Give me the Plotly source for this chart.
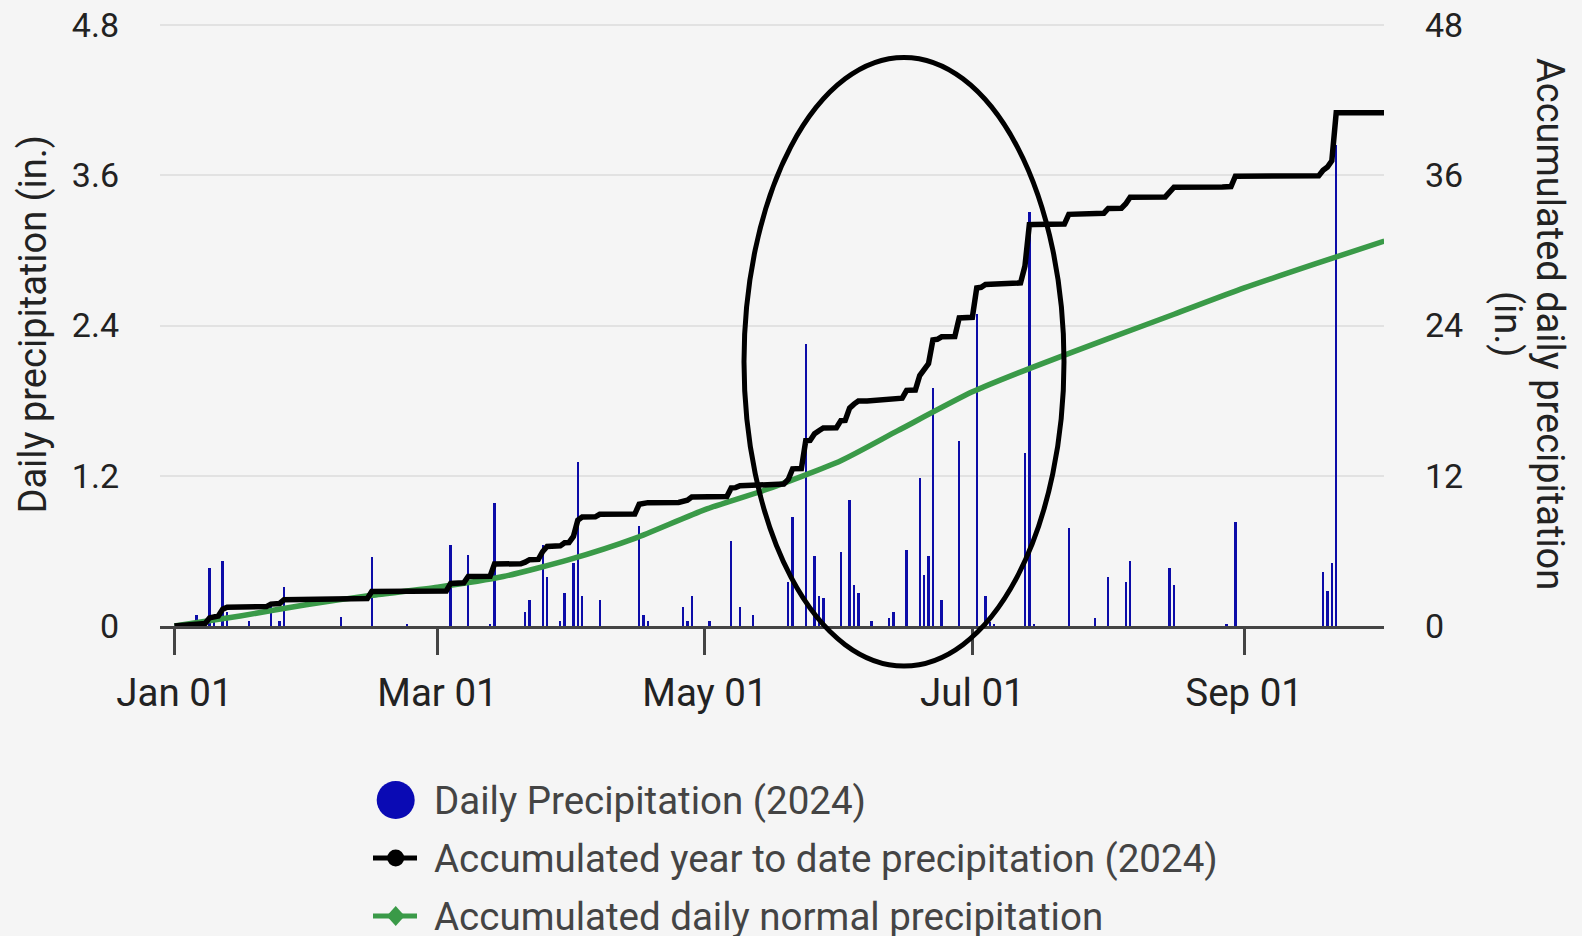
import pandas as pd
import plotly.graph_objects as go

# ---------------- data ----------------
YEAR_START = pd.Timestamp("2024-01-01")

# daily precipitation (day index from Jan 01, inches)
rain_day = [5, 8, 9, 11, 12, 17, 22, 24, 25, 38, 45, 53, 63, 67, 72, 73, 80, 81, 84, 85,
            88, 89, 91, 92, 93, 97, 106, 107, 108, 116, 117, 118, 122, 127, 129, 132, 140, 141, 144, 146,
            147, 148, 152, 154, 155, 156, 159, 163, 164, 167, 170, 171, 172, 173, 175, 179, 183, 185, 186, 187,
            194, 195, 196, 204, 210, 213, 217, 218, 227, 228, 240, 242, 262, 263, 264, 265]
rain_in = [0.09, 0.46, 0.05, 0.52, 0.11, 0.04, 0.19, 0.04, 0.31, 0.07, 0.55, 0.02, 0.65, 0.57, 0.02, 0.98, 0.11, 0.21, 0.65, 0.39,
           0.04, 0.26, 0.50, 1.31, 0.24, 0.21, 0.80, 0.09, 0.04, 0.15, 0.04, 0.24, 0.04, 0.68, 0.15, 0.09, 0.35, 0.87, 2.25, 0.56,
           0.24, 0.22, 0.59, 1.01, 0.33, 0.26, 0.04, 0.06, 0.11, 0.61, 1.18, 0.41, 0.56, 1.90, 0.21, 1.48, 2.49, 0.24, 0.03, 0.02,
           1.38, 3.31, 0.02, 0.78, 0.06, 0.39, 0.35, 0.52, 0.46, 0.33, 0.02, 0.83, 0.43, 0.28, 0.50, 3.84]

# accumulated year-to-date precipitation (vertices of the black line)
acc_day = [0, 4, 5, 7, 8, 10, 11, 12, 21, 22, 24, 25, 37, 38, 44, 45, 62, 63, 66, 67,
           72, 73, 79, 80, 81, 83, 84, 85, 88, 89, 90, 91, 92, 93, 96, 97, 105, 106, 107, 108,
           115, 116, 117, 118, 121, 122, 126, 127, 128, 129, 131, 132, 139, 140, 141, 143, 144, 145, 146, 147,
           148, 151, 152, 153, 154, 155, 156, 158, 159, 162, 163, 164, 166, 167, 169, 170, 171, 172, 173, 174,
           175, 178, 179, 182, 183, 184, 185, 186, 187, 193, 194, 195, 196, 203, 204, 209, 210, 212, 213, 216,
           217, 218, 226, 227, 228, 239, 240, 241, 242, 261, 262, 263, 264, 265, 276]
acc_in = [0.0, 0.05, 0.15, 0.2, 0.65, 0.8, 1.35, 1.5, 1.55, 1.75, 1.8, 2.1, 2.1, 2.17, 2.2, 2.75, 2.8, 3.4, 3.45, 3.95,
          3.97, 4.95, 4.97, 5.1, 5.3, 5.32, 5.95, 6.35, 6.4, 6.65, 6.67, 7.15, 8.45, 8.7, 8.72, 8.92, 8.94, 9.72, 9.8, 9.85,
          9.87, 10.0, 10.05, 10.3, 10.3, 10.34, 10.35, 11.03, 11.05, 11.2, 11.22, 11.32, 11.34, 11.7, 12.55, 12.57, 14.8, 14.82, 15.35, 15.6,
          15.82, 15.84, 16.4, 16.42, 17.4, 17.72, 17.97, 17.98, 18.02, 18.03, 18.08, 18.18, 18.2, 18.82, 18.84, 20.0, 20.4, 20.95, 22.85, 22.9,
          23.1, 23.12, 24.6, 24.65, 27.0, 27.05, 27.28, 27.3, 27.35, 27.4, 28.75, 32.05, 32.07, 32.1, 32.88, 32.9, 32.95, 32.97, 33.35, 33.37,
          33.72, 34.25, 34.27, 34.73, 35.05, 35.07, 35.09, 35.1, 35.92, 35.95, 36.4, 36.65, 37.15, 41.0, 41.0]

# accumulated daily normal precipitation (green line)
normal_day = [0, 15, 30, 45, 60, 75, 90, 105, 121, 135, 152, 165, 182, 196, 213, 228, 244, 260, 276]
normal_in = [0.0, 0.8, 1.7, 2.45, 3.1, 3.95, 5.3, 7.0, 9.3, 10.9, 13.2, 15.6, 18.7, 20.7, 22.95, 24.9, 27.0, 28.9, 30.75]

x_tick_dates = ["2024-01-01", "2024-03-01", "2024-05-01", "2024-07-01", "2024-09-01"]
x_tick_labels = ["Jan 01", "Mar 01", "May 01", "Jul 01", "Sep 01"]
left_ticks = [0, 1.2, 2.4, 3.6, 4.8]
left_tick_labels = ["0", "1.2", "2.4", "3.6", "4.8"]
right_ticks = [0, 12, 24, 36, 48]
right_tick_labels = ["0", "12", "24", "36", "48"]

legend_labels = ["Daily Precipitation (2024)",
                 "Accumulated year to date precipitation (2024)",
                 "Accumulated daily normal precipitation"]

# ---------------- styling ----------------
W, H = 1582, 936
PL, PR, PT, PB = 160, 1384, 24, 626   # plot box in pixels
FONT = "Roboto"
BG = "#f5f5f5"
BLUE = "#0c0ca8"
GREEN = "#3a9a48"
GRID = "#e2e2e2"


def to_dates(days):
    return [YEAR_START + pd.Timedelta(days=d) for d in days]


def pxx(x):
    return (x - PL) / (PR - PL)


def pxy(y):
    return (PB - y) / (PB - PT)


fig = go.Figure()

fig.add_trace(go.Bar(
    x=to_dates(rain_day), y=rain_in, name=legend_labels[0],
    marker=dict(color=BLUE, line=dict(width=0)),
    width=0.55 * 86400000, yaxis="y", showlegend=False))

fig.add_trace(go.Scatter(
    x=to_dates(normal_day), y=normal_in, name=legend_labels[2], mode="lines",
    line=dict(color=GREEN, width=5.5, shape="spline", smoothing=0.6),
    yaxis="y2", showlegend=False))

fig.add_trace(go.Scatter(
    x=to_dates(acc_day), y=acc_in, name=legend_labels[1], mode="lines",
    line=dict(color="#000000", width=5.5),
    yaxis="y2", showlegend=False))

x_start = YEAR_START + pd.Timedelta(days=-3.3)
x_end = YEAR_START + pd.Timedelta(days=275.9)

shapes = []
annotations = []

# top gridline (plotly skips the grid line at the edge of the range)
shapes.append(dict(type="line", xref="paper", yref="y", x0=0, x1=1,
                   y0=left_ticks[-1], y1=left_ticks[-1],
                   line=dict(color=GRID, width=2), layer="below"))

# highlight ellipse
shapes.append(dict(type="circle", xref="paper", yref="paper",
                   x0=pxx(744), x1=pxx(1064), y0=pxy(666), y1=pxy(57.5),
                   line=dict(color="#000000", width=5), fillcolor="rgba(0,0,0,0)", layer="above"))

# manual legend
rows_y = [800, 858, 916]
cx = 395.7
shapes.append(dict(type="circle", xref="paper", yref="paper",
                   x0=pxx(cx - 19), x1=pxx(cx + 19), y0=pxy(rows_y[0] + 19), y1=pxy(rows_y[0] - 19),
                   line=dict(width=0), fillcolor="#0a0ab4"))
shapes.append(dict(type="line", xref="paper", yref="paper",
                   x0=pxx(373), x1=pxx(417), y0=pxy(rows_y[1]), y1=pxy(rows_y[1]),
                   line=dict(color="#000000", width=5)))
shapes.append(dict(type="circle", xref="paper", yref="paper",
                   x0=pxx(cx - 8.5), x1=pxx(cx + 8.5), y0=pxy(rows_y[1] + 8.5), y1=pxy(rows_y[1] - 8.5),
                   line=dict(width=0), fillcolor="#000000"))
shapes.append(dict(type="line", xref="paper", yref="paper",
                   x0=pxx(373), x1=pxx(417), y0=pxy(rows_y[2]), y1=pxy(rows_y[2]),
                   line=dict(color=GREEN, width=5)))
dy = rows_y[2]
shapes.append(dict(type="path", xref="paper", yref="paper",
                   path="M {} {} L {} {} L {} {} L {} {} Z".format(
                       pxx(cx - 9), pxy(dy), pxx(cx), pxy(dy - 10),
                       pxx(cx + 9), pxy(dy), pxx(cx), pxy(dy + 10)),
                   line=dict(width=0), fillcolor=GREEN))
for ry, lab in zip(rows_y, legend_labels):
    annotations.append(dict(text=lab, xref="paper", yref="paper", x=pxx(432), y=pxy(ry),
                            xanchor="left", yanchor="middle", showarrow=False,
                            font=dict(family=FONT, size=38.5, color="#444444")))

# axis titles
annotations.append(dict(text="Daily precipitation (in.)", xref="paper", yref="paper",
                        x=pxx(32.5), y=pxy(324), xanchor="center", yanchor="middle",
                        textangle=-90, showarrow=False,
                        font=dict(family=FONT, size=38, color="#222222")))
annotations.append(dict(text="Accumulated daily precipitation", xref="paper", yref="paper",
                        x=pxx(1550), y=pxy(324), xanchor="center", yanchor="middle",
                        textangle=90, showarrow=False,
                        font=dict(family=FONT, size=38, color="#222222")))
annotations.append(dict(text="(in.)", xref="paper", yref="paper",
                        x=pxx(1508), y=pxy(324), xanchor="center", yanchor="middle",
                        textangle=90, showarrow=False,
                        font=dict(family=FONT, size=38, color="#222222")))

fig.update_layout(
    width=W, height=H,
    margin=dict(l=PL, r=W - PR, t=PT, b=H - PB, pad=0, autoexpand=False),
    paper_bgcolor=BG, plot_bgcolor=BG,
    showlegend=False,
    bargap=0,
    xaxis=dict(type="date", range=[x_start, x_end], automargin=False,
               tickvals=x_tick_dates, ticktext=x_tick_labels,
               ticks="outside", ticklen=26, tickwidth=3, tickcolor="#444444",
               showline=True, linecolor="#444444", linewidth=2.5,
               showgrid=False, zeroline=False,
               tickfont=dict(family=FONT, size=38.5, color="#222222"),
               ticklabelstandoff=5),
    yaxis=dict(range=[0, 4.808], tickvals=left_ticks, ticktext=left_tick_labels,
               automargin=False,
               showgrid=True, gridcolor=GRID, gridwidth=2,
               zeroline=False, ticks="", showline=False,
               tickfont=dict(family=FONT, size=34, color="#222222"),
               ticklabelstandoff=40),
    yaxis2=dict(range=[0, 48.08], tickvals=right_ticks, ticktext=right_tick_labels,
                automargin=False,
                overlaying="y", side="right", showgrid=False, zeroline=False,
                ticks="", showline=False,
                tickfont=dict(family=FONT, size=34, color="#222222"),
                ticklabelstandoff=40),
    shapes=shapes,
    annotations=annotations,
)

fig.write_html("out.html",
               config={"displayModeBar": False},
               post_script="document.body.style.margin='0px';document.body.style.padding='0px';"
                           "document.body.style.background='" + BG + "';")
